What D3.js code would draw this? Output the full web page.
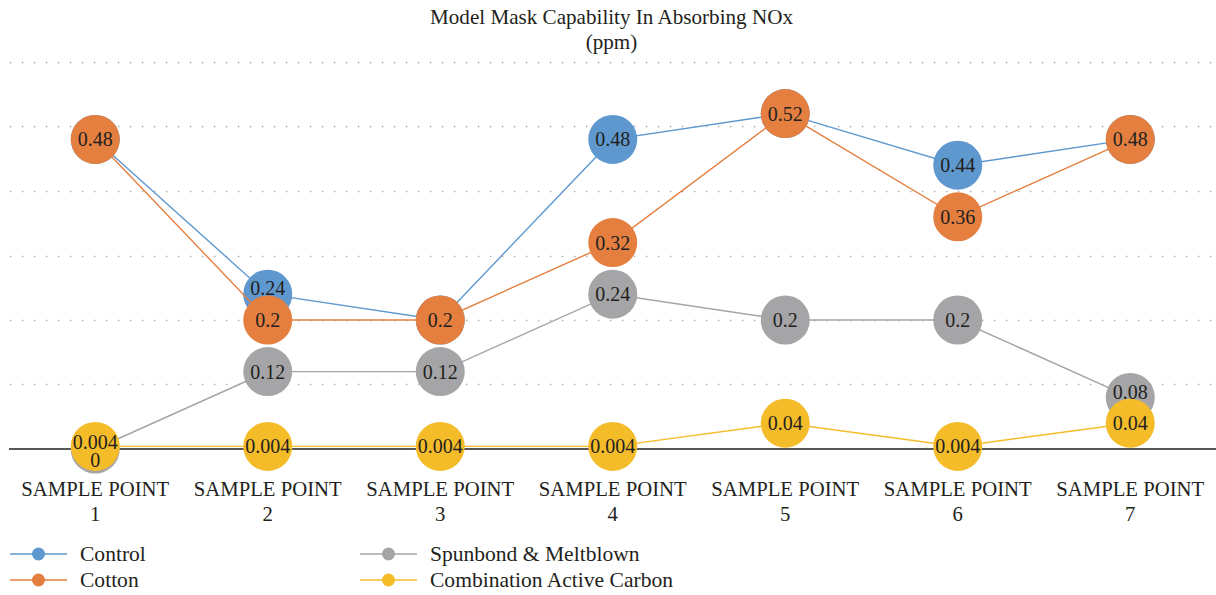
<!DOCTYPE html>
<html>
<head>
<meta charset="utf-8">
<script src="https://cdn.jsdelivr.net/npm/d3@7"></script>
<style>
  body { margin: 0; background: #fff; }
</style>
</head>
<body>
<script>
// chart data
var categories = ["1", "2", "3", "4", "5", "6", "7"];
var seriesNames = ["Control", "Cotton", "Spunbond & Meltblown", "Combination Active Carbon"];
var control = [0.48, 0.24, 0.2, 0.48, 0.52, 0.44, 0.48];
var cotton = [0.48, 0.2, 0.2, 0.32, 0.52, 0.36, 0.48];
var spunbond = [0, 0.12, 0.12, 0.24, 0.2, 0.2, 0.08];
var carbon = [0.004, 0.004, 0.004, 0.004, 0.04, 0.004, 0.04];
var yTicks = [0, 0.1, 0.2, 0.3, 0.4, 0.5, 0.6];
var colors = ["#5E98CE", "#E57F40", "#A5A5A8", "#F5BC2A"];

var allSeries = [control, cotton, spunbond, carbon];

var width = 1216, height = 595;
var r = 24.5;
var font = "'Liberation Serif', 'Times New Roman', serif";
var ink = "#231f20";

var svg = d3.select("body").append("svg")
  .attr("width", width)
  .attr("height", height)
  .style("font-family", font);

// helper: add text in serif, optionally sized to a measured width
function addText(parent, str, px, wantWidth) {
  var t = parent.append("text")
    .style("font-family", font)
    .style("font-size", px + "px")
    .attr("fill", ink)
    .text(str);
  if (wantWidth) {
    var w = t.node().getComputedTextLength();
    if (w > 0) t.style("font-size", (px * wantWidth / w).toFixed(2) + "px");
  }
  return t;
}

// title
var title = addText(svg, "Model Mask Capability In Absorbing NOx", 18, 363)
  .attr("x", 611.5).attr("y", 24).attr("text-anchor", "middle");
addText(svg, "(ppm)", 18).style("font-size", title.style("font-size"))
  .attr("x", 611.5).attr("y", 49).attr("text-anchor", "middle");

// scales
var x = d3.scaleBand().domain(categories).range([9, 1216.5]);
var y = d3.scaleLinear().domain([0, 0.6]).range([449, 62]);
var cx = function(i) { return x(categories[i]) + x.bandwidth() / 2; };

// dotted grid
svg.append("g")
  .selectAll("line")
  .data(yTicks.slice(1))
  .enter().append("line")
    .attr("x1", 10).attr("x2", width)
    .attr("y1", d => Math.round(y(d)) + 0.5)
    .attr("y2", d => Math.round(y(d)) + 0.5)
    .attr("stroke", "#a6a6a6")
    .attr("stroke-width", 1.3)
    .attr("stroke-dasharray", "1.3,10.7");

// category axis
var xAxis = d3.axisBottom(x).tickSize(0).tickFormat("");
var gx = svg.append("g")
  .attr("transform", "translate(0," + y(0) + ")")
  .call(xAxis);
gx.select(".domain").attr("stroke", ink).attr("stroke-width", 1.6)
  .attr("d", "M9,0H" + width);
var tickSize = null;
categories.forEach(function(c, i) {
  var t1 = addText(svg, "SAMPLE POINT", 20, tickSize ? null : 148)
    .attr("x", cx(i)).attr("y", 496).attr("text-anchor", "middle");
  if (!tickSize) tickSize = t1.style("font-size");
  t1.style("font-size", tickSize);
  addText(svg, c, 20).style("font-size", tickSize)
    .attr("x", cx(i)).attr("y", 521).attr("text-anchor", "middle");
});

// lines and markers, series by series
var line = d3.line().x((d, i) => cx(i)).y(d => y(d));
allSeries.forEach(function(vals, s) {
  var g = svg.append("g");
  g.append("path").datum(vals)
    .attr("d", line)
    .attr("fill", "none")
    .attr("stroke", colors[s])
    .attr("stroke-width", 1.4);
  g.selectAll("circle").data(vals).enter().append("circle")
    .attr("cx", (d, i) => cx(i))
    .attr("cy", d => y(d))
    .attr("r", r)
    .attr("fill", colors[s]);
});

// data labels, nudged apart where markers overlap
var labels = [];
categories.forEach(function(c, i) {
  var pts = [];
  allSeries.forEach(function(vals, s) {
    var txt = String(vals[i]);
    if (!pts.some(p => p.txt === txt)) pts.push({txt: txt, y: y(vals[i]), i: i});
  });
  pts.sort((a, b) => a.y - b.y);
  for (var k = 0; k < pts.length - 1; k++) {
    var a = pts[k], b = pts[k + 1];
    var d = b.y - a.y;
    if (d < 18) {
      var mid = (a.y + b.y) / 2;
      a.y = mid - 6; b.y = mid + 12.5;
    } else if (d < 2 * r) {
      a.y -= (2 * r - d) / 4;
    }
  }
  labels = labels.concat(pts);
});
var gl = svg.append("g");
labels.forEach(function(d) {
  addText(gl, d.txt, 20)
    .attr("x", cx(d.i)).attr("y", d.y)
    .attr("dy", "0.35em")
    .attr("text-anchor", "middle");
});

// legend
var legendPos = [[10, 554], [10, 580], [360, 554], [360, 580]];
var legendText = [];
seriesNames.forEach(function(name, s) {
  var lx = legendPos[s][0], ly = legendPos[s][1];
  var g = svg.append("g");
  g.append("line").attr("x1", lx).attr("x2", lx + 57)
    .attr("y1", ly).attr("y2", ly)
    .attr("stroke", colors[s]).attr("stroke-width", 1.4);
  g.append("circle").attr("cx", lx + 28.5).attr("cy", ly).attr("r", 6.5)
    .attr("fill", colors[s]);
  legendText.push(addText(g, name, 19)
    .attr("x", lx + 70).attr("y", ly).attr("dy", "0.33em"));
});
// legend text sized so "Combination Active Carbon" matches its width
var lw = legendText[3].node().getComputedTextLength();
var lf = (19 * 243 / lw).toFixed(2) + "px";
legendText.forEach(t => t.style("font-size", lf));
</script>
</body>
</html>
